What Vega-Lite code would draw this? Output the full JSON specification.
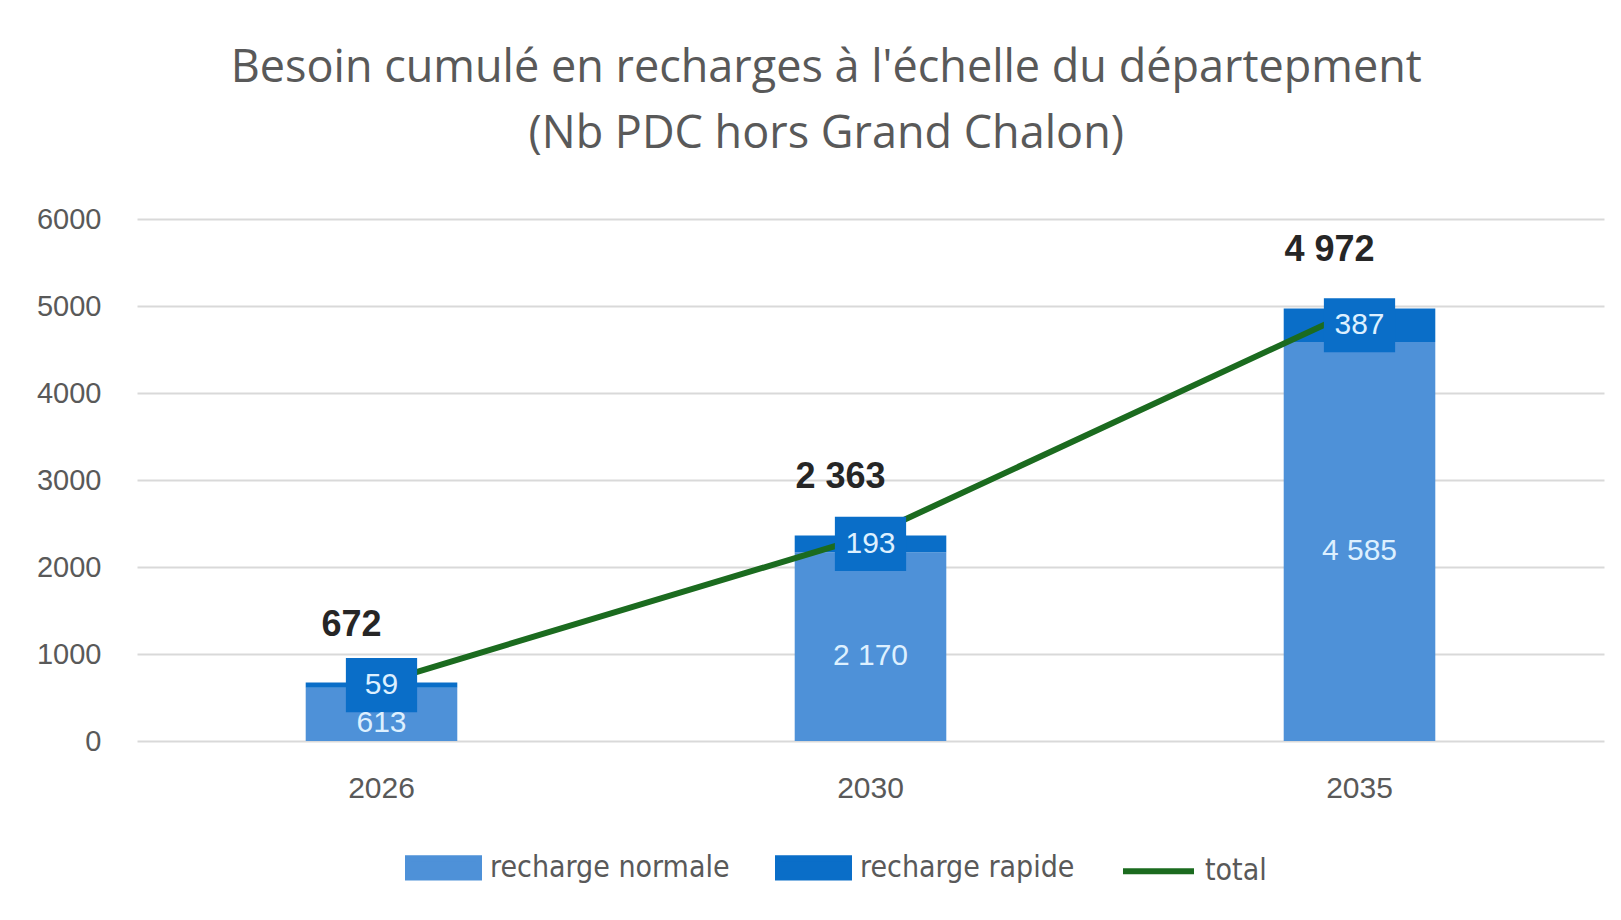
{
  "$schema": "https://vega.github.io/schema/vega-lite/v6.json",
  "width": 1467,
  "height": 522,
  "padding": {"left": 36, "top": 46, "right": 17, "bottom": 20},
  "background": "white",
  "title": {
    "text": ["Besoin cumulé en recharges à l'échelle du départepment", "(Nb PDC hors Grand Chalon)"],
    "fontSize": 45,
    "font": "Open Sans",
    "fontWeight": "normal",
    "color": "#595959",
    "lineHeight": 66,
    "anchor": "middle",
    "frame": "bounds",
    "offset": 48,
    "dx": 6
  },
  "datasets": {
    "segments": [
      {"year": "2026", "series": "recharge normale", "value": 613},
      {"year": "2026", "series": "recharge rapide", "value": 59},
      {"year": "2030", "series": "recharge normale", "value": 2170},
      {"year": "2030", "series": "recharge rapide", "value": 193},
      {"year": "2035", "series": "recharge normale", "value": 4585},
      {"year": "2035", "series": "recharge rapide", "value": 387}
    ],
    "totals": [
      {"year": "2026", "total": 672},
      {"year": "2030", "total": 2363},
      {"year": "2035", "total": 4972}
    ]
  },
  "layer": [
    {
      "data": {"name": "segments"},
      "mark": {"type": "bar"},
      "encoding": {
        "x": {
          "field": "year", "type": "nominal", "title": null,
          "scale": {"paddingInner": 0.69, "paddingOuter": 0.345},
          "axis": {"labelAngle": 0, "domain": false, "ticks": false, "labelPadding": 32, "labelFontSize": 30, "labelColor": "#595959", "labelFont": "Liberation Sans"}
        },
        "y": {
          "field": "value", "type": "quantitative", "stack": "zero", "title": null,
          "scale": {"domain": [0, 6000]},
          "axis": {"format": "d", "tickCount": 6, "domain": false, "ticks": false, "labelPadding": 36, "labelFontSize": 29, "labelColor": "#595959", "labelFont": "Liberation Sans", "grid": true, "gridColor": "#d9d9d9", "gridWidth": 2}
        },
        "color": {
          "field": "series", "type": "nominal",
          "scale": {"domain": ["recharge normale", "recharge rapide", "total"], "range": ["#4E91D8", "#0A6EC8", "#1B6B1F"]},
          "legend": {
            "orient": "none", "legendX": 268, "legendY": 610, "direction": "horizontal", "title": null,
            "symbolType": "M-1,-0.27H1V0.27H-1Z", "symbolSize": 5041,
            "labelFontSize": 30, "labelFont": "Liberation Sans Narrow, DejaVu Sans Condensed, sans-serif",
            "labelColor": "#595959", "labelOffset": 8, "columnPadding": 36, "labelLimit": 400,
            "symbolOpacity": 1,
            "encode": {
              "symbols": {
                "update": {
                  "shape": {"signal": "datum.value === 'total' ? 'M-1,0H1' : 'M-1,-0.27H1V0.27H-1Z'"},
                  "fill": {"signal": "datum.value === 'recharge normale' ? '#4E91D8' : datum.value === 'recharge rapide' ? '#0A6EC8' : 'transparent'"},
                  "stroke": {"signal": "datum.value === 'total' ? '#1B6B1F' : 'transparent'"},
                  "strokeWidth": {"value": 6},
                  "opacity": {"value": 1}
                }
              }
            }
          }
        },
        "order": {"field": "series"}
      }
    },
    {
      "data": {"name": "totals"},
      "mark": {"type": "line", "strokeWidth": 6, "strokeCap": "round"},
      "encoding": {
        "x": {"field": "year", "type": "nominal", "title": null},
        "y": {"field": "total", "type": "quantitative", "title": null},
        "color": {"datum": "total"}
      }
    },
    {
      "data": {"name": "segments"},
      "transform": [
        {"stack": "value", "groupby": ["year"], "sort": [{"field": "series", "order": "ascending"}], "as": ["v0", "v1"]},
        {"fold": ["v0", "v1"], "as": ["edge", "pos"]},
        {"aggregate": [{"op": "mean", "field": "pos", "as": "mid"}], "groupby": ["year", "series", "value"]}
      ],
      "layer": [
        {
          "transform": [{"filter": "datum.series === 'recharge rapide'"}],
          "mark": {"type": "point", "shape": "M-1.25,-0.95H1.25V0.95H-1.25Z", "filled": true, "opacity": 1, "color": "#0A6EC8", "size": 3249, "strokeWidth": 0},
          "encoding": {
            "x": {"field": "year", "type": "nominal", "title": null},
            "y": {"field": "mid", "type": "quantitative", "title": null}
          }
        },
        {
          "transform": [{"filter": "datum.series === 'recharge rapide'"}],
          "mark": {"type": "text", "fontSize": 30, "color": "#DDF0FF", "font": "Liberation Sans", "baseline": "middle"},
          "encoding": {
            "x": {"field": "year", "type": "nominal", "title": null},
            "y": {"field": "mid", "type": "quantitative", "title": null},
            "text": {"field": "value", "type": "quantitative", "format": ",d"}
          }
        },
        {
          "transform": [{"filter": "datum.series === 'recharge normale'"}],
          "mark": {"type": "text", "fontSize": 30, "color": "#DDF0FF", "font": "Liberation Sans", "baseline": "middle", "dy": 9},
          "encoding": {
            "x": {"field": "year", "type": "nominal", "title": null},
            "y": {"field": "mid", "type": "quantitative", "title": null},
            "text": {"field": "value", "type": "quantitative", "format": ",d"}
          }
        }
      ]
    },
    {
      "data": {"name": "totals"},
      "mark": {"type": "text", "fontSize": 36, "fontWeight": "bold", "color": "#262626", "font": "Liberation Sans", "dy": -58, "dx": -30, "baseline": "middle"},
      "encoding": {
        "x": {"field": "year", "type": "nominal", "title": null},
        "y": {"field": "total", "type": "quantitative", "title": null},
        "text": {"field": "total", "type": "quantitative", "format": ",d"}
      }
    }
  ],
  "config": {
    "locale": {"number": {"decimal": ",", "thousands": " ", "grouping": [3], "currency": ["", " €"]}},
    "view": {"stroke": null}
  }
}
